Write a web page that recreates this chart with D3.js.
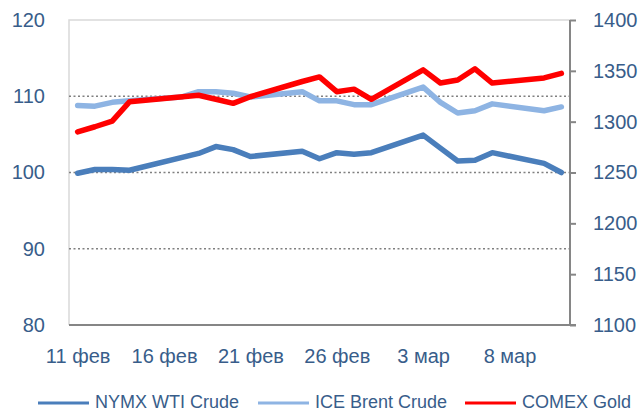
<!DOCTYPE html>
<html>
<head>
<meta charset="utf-8">
<script src="https://cdn.jsdelivr.net/npm/d3@7"></script>
<style>
  body { margin: 0; background: #fff; }
  text { font-family: "Liberation Sans", Arial, sans-serif; }
</style>
</head>
<body>
<div id="chart"></div>
<script>
// trading days, Feb-Mar 2014
const dates = ['2014-02-11', '2014-02-12', '2014-02-13', '2014-02-14', '2014-02-17', '2014-02-18',
  '2014-02-19', '2014-02-20', '2014-02-21', '2014-02-24', '2014-02-25', '2014-02-26', '2014-02-27',
  '2014-02-28', '2014-03-03', '2014-03-04', '2014-03-05', '2014-03-06', '2014-03-07', '2014-03-10',
  '2014-03-11']
const wti = [99.9, 100.4, 100.4, 100.3, null, 102.5, 103.4, 103.0, 102.1, 102.8, 101.8, 102.6, 102.4,
  102.6, 104.9, 103.2, 101.5, 101.6, 102.6, 101.2, 100.0]
const brent = [108.8, 108.7, 109.2, 109.4, 109.9, 110.6, 110.6, 110.4, 109.9, 110.6, 109.4, 109.4, 108.9,
  108.9, 111.2, 109.2, 107.8, 108.1, 109.0, 108.1, 108.6]
const gold = [1290, 1295, 1300.5, 1319.5, null, 1326, 1322, 1318, 1324.5, 1339.5, 1344, 1329.5, 1332,
  1322, 1351, 1338, 1341, 1352, 1338, 1343, 1347.5]

const xTicks = ['2014-02-11', '2014-02-16', '2014-02-21', '2014-02-26', '2014-03-03', '2014-03-08']
const xTickLabels = ['11 фев', '16 фев', '21 фев', '26 фев', '3 мар', '8 мар']
const leftTicks = [80, 90, 100, 110, 120]
const rightTicks = [1100, 1150, 1200, 1250, 1300, 1350, 1400]
const seriesNames = ['NYMX WTI Crude', 'ICE Brent Crude', 'COMEX Gold']

const width = 643
const height = 412
const plot = { left: 69, right: 570, top: 20, bottom: 325 }
const textColor = '#385d8a'
const colours = ['#4a7ebb', '#8eb4e3', '#ff0000']

const parse = d3.timeParse('%Y-%m-%d')
const day = 24 * 3600 * 1000

const x = d3.scaleTime()
  .domain([new Date(parse(dates[0]) - day / 2), new Date(+parse(dates[dates.length - 1]) + day / 2)])
  .range([plot.left, plot.right])
const yL = d3.scaleLinear().domain([80, 120]).range([plot.bottom, plot.top])
const yR = d3.scaleLinear().domain([1100, 1400]).range([plot.bottom, plot.top])

const svg = d3.select('#chart')
  .append('svg')
  .attr('width', width)
  .attr('height', height)

// plot frame (top + left, light)
svg.append('path')
  .attr('d', `M${plot.left},${plot.bottom}V${plot.top}H${plot.right}`)
  .attr('fill', 'none')
  .attr('stroke', '#d9d9d9')
  .attr('stroke-width', 1.5)

// dotted gridlines
svg.append('g')
  .selectAll('line')
  .data(leftTicks.filter(v => v > 80 && v < 120))
  .join('line')
  .attr('x1', plot.left)
  .attr('x2', plot.right)
  .attr('y1', d => yL(d))
  .attr('y2', d => yL(d))
  .attr('stroke', '#808080')
  .attr('stroke-width', 1.5)
  .attr('stroke-dasharray', '2,2.5')

// left axis
const gl = svg.append('g')
  .attr('transform', `translate(${plot.left},0)`)
  .call(d3.axisLeft(yL).tickValues(leftTicks).tickSize(0).tickPadding(24))
gl.select('.domain').remove()

// right axis
const gr = svg.append('g')
  .attr('transform', `translate(${plot.right},0)`)
  .call(d3.axisRight(yR).tickValues(rightTicks).tickSize(6).tickPadding(17).tickFormat(d3.format('d')))
gr.select('.domain')
  .attr('d', `M0,${plot.top}V${plot.bottom}`)
  .attr('stroke', '#868686')
  .attr('stroke-width', 2)
gr.selectAll('.tick line').attr('stroke', '#868686').attr('stroke-width', 2)

// bottom axis
const gb = svg.append('g')
  .attr('transform', `translate(0,${plot.bottom})`)
  .call(d3.axisBottom(x)
    .tickValues(xTicks.map(parse))
    .tickSize(0)
    .tickPadding(24)
    .tickFormat((d, i) => xTickLabels[i]))
gb.select('.domain')
  .attr('d', `M${plot.left},0H${plot.right + 6}`)
  .attr('stroke', '#868686')
  .attr('stroke-width', 2)

svg.selectAll('.tick text')
  .attr('fill', textColor)
  .style('font-size', '20px')
  .style('font-family', '"Liberation Sans", Arial, sans-serif')

// lines
const series = [
  { values: wti, y: yL },
  { values: brent, y: yL },
  { values: gold, y: yR }
]

series.forEach((s, i) => {
  const pts = dates.map((d, j) => ({ date: parse(d), v: s.values[j] })).filter(p => p.v != null)
  const line = d3.line().x(p => x(p.date)).y(p => s.y(p.v))
  svg.append('path')
    .datum(pts)
    .attr('d', line)
    .attr('fill', 'none')
    .attr('stroke', colours[i])
    .attr('stroke-width', 5.5)
    .attr('stroke-linejoin', 'round')
    .attr('stroke-linecap', 'round')
})

// legend
const legendX = [38, 258, 465]
const legend = svg.append('g')
  .selectAll('g')
  .data(seriesNames)
  .join('g')
  .attr('transform', (d, i) => `translate(${legendX[i]},403)`)
legend.append('line')
  .attr('x1', 0)
  .attr('x2', 51)
  .attr('stroke', (d, i) => colours[i])
  .attr('stroke-width', 3)
legend.append('text')
  .attr('x', 57)
  .attr('y', 5)
  .attr('fill', textColor)
  .style('font-size', '18px')
  .text(d => d)
</script>
</body>
</html>
